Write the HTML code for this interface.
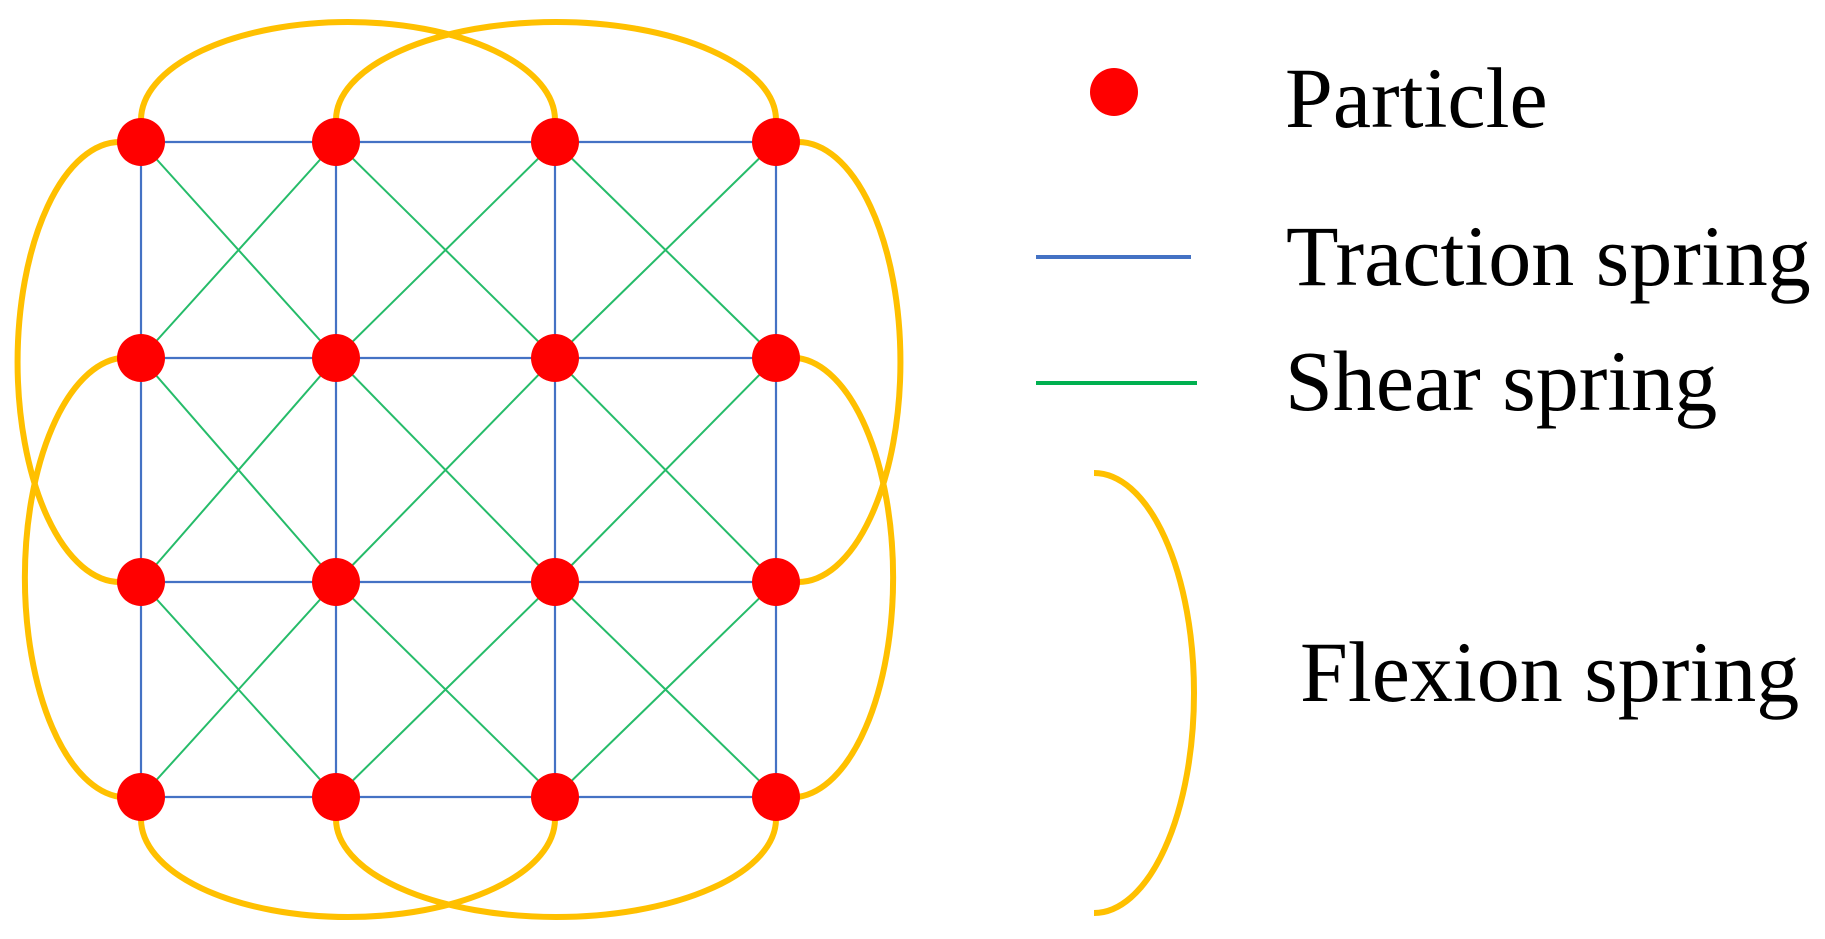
<!DOCTYPE html>
<html><head><meta charset="utf-8"><style>
html,body{margin:0;padding:0;background:#fff;}
svg{display:block}
text{font-family:"Liberation Serif",serif;font-size:86px;fill:#000}
</style></head><body>
<svg width="1825" height="939" viewBox="0 0 1825 939" xmlns="http://www.w3.org/2000/svg">
<g fill="none" stroke="#ffc000" stroke-width="6">
<path d="M141,120 A207 98 0 0 1 555,120"/>
<path d="M336,120 A220 98 0 0 1 776,120"/>
<path d="M120,142 A102 219 0 0 0 120,582"/>
<path d="M120,358 A102 220 0 0 0 120,797"/>
<path d="M798,142 A102 219 0 0 1 798,582"/>
<path d="M798,358 A102 220 0 0 1 798,797"/>
<path d="M141,819 A207 98 0 0 0 555,819"/>
<path d="M336,819 A220 98 0 0 0 776,819"/>
</g>
<g stroke="#4472c4" stroke-width="2.2" fill="none">
<path d="M141,142H776M141,358H776M141,582H776M141,797H776"/>
<path d="M141,142V797M336,142V797M555,142V797M776,142V797"/>
</g>
<g stroke="#00b050" stroke-width="2" fill="none" opacity="0.85">
<path d="M141,142L336,358M336,142L141,358M336,142L555,358M555,142L336,358M555,142L776,358M776,142L555,358"/>
<path d="M141,358L336,582M336,358L141,582M336,358L555,582M555,358L336,582M555,358L776,582M776,358L555,582"/>
<path d="M141,582L336,797M336,582L141,797M336,582L555,797M555,582L336,797M555,582L776,797M776,582L555,797"/>
</g>
<g fill="#ff0000">
<circle cx="141" cy="142" r="24"/><circle cx="336" cy="142" r="24"/><circle cx="555" cy="142" r="24"/><circle cx="776" cy="142" r="24"/>
<circle cx="141" cy="358" r="24"/><circle cx="336" cy="358" r="24"/><circle cx="555" cy="358" r="24"/><circle cx="776" cy="358" r="24"/>
<circle cx="141" cy="582" r="24"/><circle cx="336" cy="582" r="24"/><circle cx="555" cy="582" r="24"/><circle cx="776" cy="582" r="24"/>
<circle cx="141" cy="797" r="24"/><circle cx="336" cy="797" r="24"/><circle cx="555" cy="797" r="24"/><circle cx="776" cy="797" r="24"/>
<circle cx="1114" cy="92" r="24"/>
</g>
<line x1="1036" y1="257" x2="1191" y2="257" stroke="#4472c4" stroke-width="4"/>
<line x1="1036" y1="383" x2="1197" y2="383" stroke="#00b050" stroke-width="4"/>
<path d="M1094,473 A100 220 0 0 1 1094,913" fill="none" stroke="#ffc000" stroke-width="6"/>
<text x="1285" y="127">Particle</text>
<text x="1286" y="285">Traction spring</text>
<text x="1285" y="410">Shear spring</text>
<text x="1300" y="701">Flexion spring</text>
</svg>
</body></html>
